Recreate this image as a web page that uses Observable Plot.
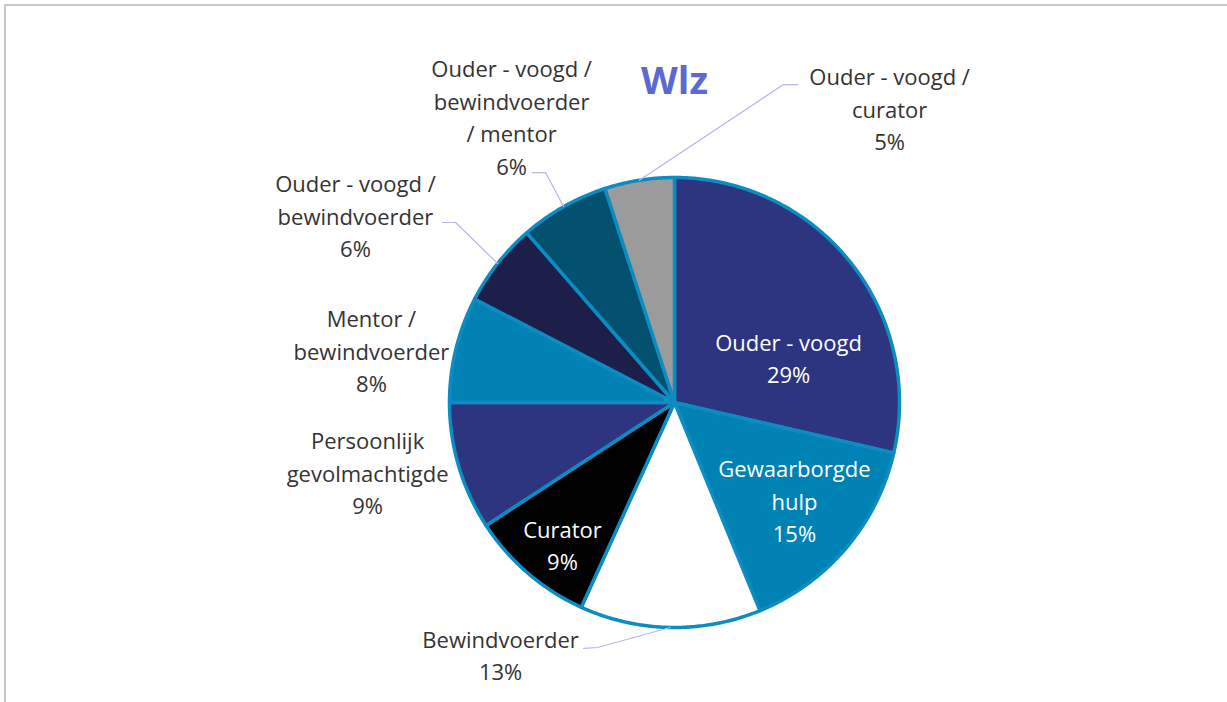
<!DOCTYPE html>
<html><head><meta charset="utf-8">
<script src="https://cdn.jsdelivr.net/npm/d3@7"></script>
<script src="https://cdn.jsdelivr.net/npm/@observablehq/plot@0.6"></script>
<style>
html,body{margin:0;padding:0;background:#fff;overflow:hidden;width:1227px;height:702px}
#frame{position:absolute;left:4px;top:4px;width:1300px;height:800px;border:2px solid #c8c8c8;box-sizing:border-box}
#chart{position:absolute;left:0;top:0}
</style></head><body><div id="frame"></div><div id="chart"></div>
<script>
// ---- data ----
const title = "Wlz";
const categories = ["Ouder - voogd", "Gewaarborgde hulp", "Bewindvoerder", "Curator", "Persoonlijk gevolmachtigde", "Mentor / bewindvoerder", "Ouder - voogd / bewindvoerder", "Ouder - voogd / bewindvoerder / mentor", "Ouder - voogd / curator"];
const values = [28.6, 15.2, 13.0, 9.0, 9.2, 7.6, 6.0, 6.4, 5.0];
const labelLines = [["Ouder - voogd"], ["Gewaarborgde", "hulp"], ["Bewindvoerder"], ["Curator"], ["Persoonlijk", "gevolmachtigde"], ["Mentor /", "bewindvoerder"], ["Ouder - voogd /", "bewindvoerder"], ["Ouder - voogd /", "bewindvoerder", "/ mentor"], ["Ouder - voogd /", "curator"]];

// ---- styles ----
const colors = ["#2d3580", "#0082b4", "#ffffff", "#000000", "#2d3580", "#0082b4", "#1c1f4a", "#03506f", "#9b9b9b"];
const insideLabel = [true, true, false, true, false, false, false, false, false];

// ---- layout (in pie radii, pie centre = 0,0) ----
const W = 1227, H = 702, CX = 674, CY = 402, R = 225;
const labelX = [0.507, 0.533, -0.773, -0.498, -1.364, -1.347, -1.418, -0.724, 0.956];
const labelY = [0.191, -0.444, -1.129, -0.640, -0.320, 0.222, 0.822, 1.262, 1.298];
const elbowX = [null, null, -0.342, null, null, null, -0.973, -0.573, 0.484];
const elbowY = [null, null, -1.089, null, null, null, 0.800, 1.022, 1.413];
const endX   = [null, null, -0.404, null, null, null, -1.031, -0.631, 0.547];
const endY   = [null, null, -1.093, null, null, null, 0.800, 1.022, 1.413];
const titleY = 1.427;

// ---- build ----
const total = d3.sum(values);
const pct = d3.format(".0%");
const arcs = d3.pie().sort(null).value(d => d)(values);

const slicePts = [];
arcs.forEach((a, i) => {
  const name = categories[i], color = colors[i];
  slicePts.push({name, color, x: 0, y: 0});
  const n = Math.max(4, Math.ceil((a.endAngle - a.startAngle) / (Math.PI / 360)));
  for (let k = 0; k <= n; k++) {
    const t = a.startAngle + (a.endAngle - a.startAngle) * k / n;
    slicePts.push({name, color, x: Math.sin(t), y: Math.cos(t)});
  }
});

const leaderPts = [];
arcs.forEach((a, i) => {
  if (elbowX[i] == null) return;
  const m = (a.startAngle + a.endAngle) / 2;
  const name = categories[i];
  leaderPts.push({name, x: Math.sin(m), y: Math.cos(m)});
  leaderPts.push({name, x: elbowX[i], y: elbowY[i]});
  leaderPts.push({name, x: endX[i], y: endY[i]});
});

const labels = values.map((v, i) => ({
  x: labelX[i], y: labelY[i],
  text: [...labelLines[i], pct(v / total)].join("\n"),
  inside: insideLabel[i]
}));

const font = "'Open Sans', 'Noto Sans', sans-serif";
const fs = 22;
const chart = Plot.plot({
  width: W, height: H, margin: 0,
  x: {domain: [-CX / R, (W - CX) / R], axis: null},
  y: {domain: [-(H - CY) / R, CY / R], axis: null},
  color: {type: "identity"},
  style: {background: "transparent", fontFamily: font},
  marks: [
    Plot.line(slicePts, {x: "x", y: "y", z: "name", fill: "color", stroke: "#0d8cc2", strokeWidth: 3.5, curve: "linear-closed", strokeLinejoin: "round"}),
    Plot.line(leaderPts, {x: "x", y: "y", z: "name", stroke: "#b3b8e8", strokeWidth: 1.2}),
    Plot.text(labels.filter(d => !d.inside), {x: "x", y: "y", dy: -3, text: "text", fill: "#333333", fontSize: fs, lineHeight: 32.5 / fs, fontFamily: font}),
    Plot.text(labels.filter(d => d.inside), {x: "x", y: "y", dy: -3, text: "text", fill: "#ffffff", fontSize: fs, lineHeight: 32.5 / fs, fontFamily: font}),
    Plot.text([title], {x: () => 0, y: () => titleY, text: d => d, fill: "#5a6ad0", fontSize: 38, fontWeight: "bold", fontFamily: font})
  ]
});
document.getElementById("chart").appendChild(chart);
</script></body></html>
